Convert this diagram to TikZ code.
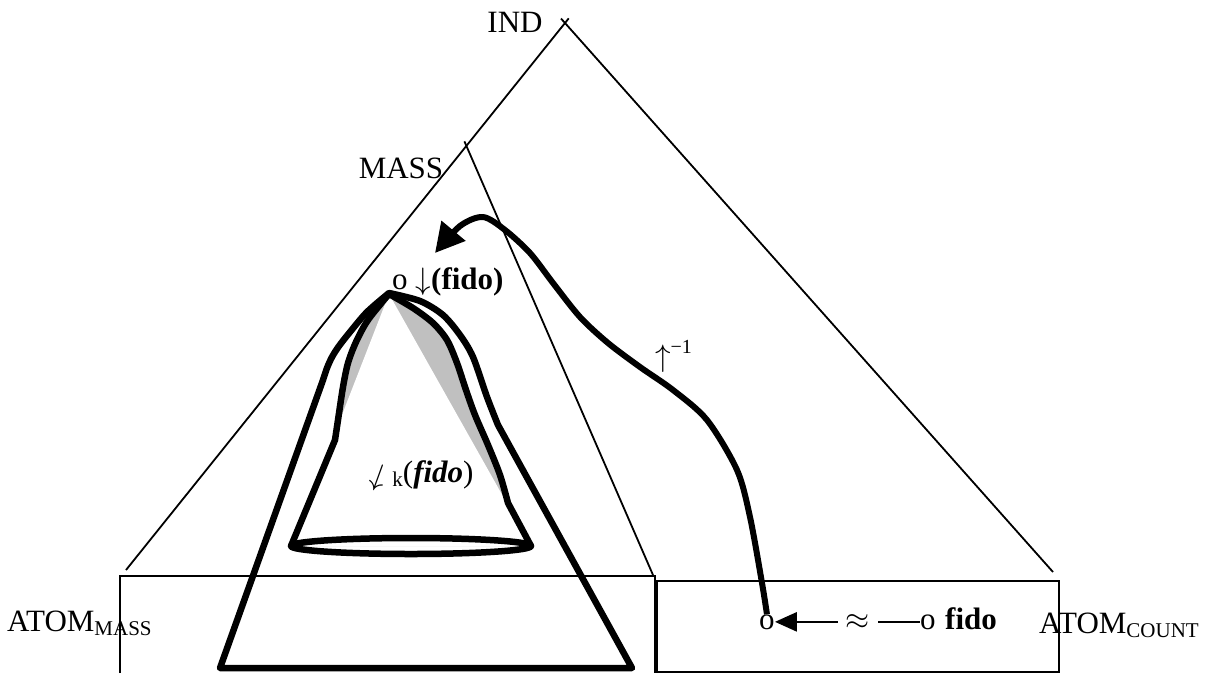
\RequirePackage{fix-cm}
\documentclass[tikz,border=0pt]{standalone}
\usepackage{fontspec}
\setmainfont{Liberation Serif}
\usepackage{graphicx}
\usetikzlibrary{arrows.meta,calc}
\definecolor{lgray}{RGB}{192,192,192}
\newcommand{\subsc}[1]{\raisebox{-4pt}{\fontsize{21}{21}\selectfont #1}}
\begin{document}
\begin{tikzpicture}[x=1pt,y=-1pt,
  fine/.style={line width=1.8pt},
  heavy/.style={line width=6.5pt, line join=round},
  lbl/.style={inner sep=0pt, font=\fontsize{31}{36}\selectfont}]
\useasboundingbox (0,0) rectangle (1215,673);

% named points
\coordinate (indtop) at (565,23);
\coordinate (masstop) at (466,145);
\coordinate (lbot) at (126,570);
\coordinate (rbot) at (1053,572);
\coordinate (mbot) at (653,575);
\coordinate (apex) at (389,294);
\coordinate (eL) at (291,546);
\coordinate (eR) at (531,546);
\coordinate (tip) at (435,253);

% triangles
\draw[fine] (lbot) -- ($(indtop)!-6pt!(lbot)$);
\draw[fine] (rbot) -- ($(indtop)!-6pt!(rbot)$);
\draw[fine] (mbot) -- ($(masstop)!-4pt!(mbot)$);

% boxes
\draw[fine] (120,673) -- (120,576) -- (655,576) -- (655,673);
\draw[fine] (657,581) rectangle (1059,672);

% grey shading between cone and bell
\fill[lgray] (eL) -- plot[smooth] coordinates {(335,440) (338,420) (343,387) (348,363) (356,342) (368,320) (389,294)}
  -- plot[smooth] coordinates {(389,294) (413,308) (433,323) (447,340) (457,363) (466,390) (475,415) (488,445) (500,475) (508,503)}
  -- (eR) -- cycle;
\fill[white] (apex) -- (eL) -- (eR) -- cycle;

% inner bell
\draw[heavy] (eL) -- plot[smooth] coordinates {(335,440) (338,420) (343,387) (348,363) (356,342) (368,320) (389,294)}
  -- plot[smooth] coordinates {(389,294) (413,308) (433,323) (447,340) (457,363) (466,390) (475,415) (488,445) (500,475) (508,503)}
  -- (eR);
\draw[heavy] (411,546) ellipse [x radius=120, y radius=8];

% outer bell / trapezoid
\draw[heavy] (220,668) -- (323,380) -- plot[smooth] coordinates {(323,380) (327,368) (332,357) (339,346) (350,332) (367,312) (389,293)}
  -- plot[smooth] coordinates {(389,293) (420,301) (443,315) (460,335) (473,357) (487,397) (498,425)}
  -- (632,668) -- cycle;

% labels
\node[lbl, anchor=base] (ind) at (515,32) {IND};
\node[lbl, anchor=base] (mass) at (401,178) {MASS};
\node[lbl, anchor=base west] (am) at (7,631) {ATOM\subsc{MASS}};
\node[lbl, anchor=base west] (ac) at (1039,633) {ATOM\subsc{COUNT}};
\node[lbl, anchor=base west] (fidoup) at (392,289) {o\hspace{8pt}$\downarrow$\textbf{(fido)}};
\node[lbl, anchor=base] (fk) at (420,482) {\rotatebox{-20}{$\downarrow$}\hspace{2pt}\subsc{k}(\textbf{\textit{fido}})};
\node[lbl, anchor=base west] (inv) at (655,366) {$\uparrow$\raisebox{13pt}{\fontsize{20}{20}\selectfont −1}};

% right box contents
\node[lbl, anchor=base west] (o1) at (759,629) {o};
\node[lbl, anchor=base west] (o2) at (920,629) {o};
\node[lbl, anchor=base west] (fido) at (945,629) {\textbf{fido}};
\draw[line width=2.7pt, -{Triangle[length=22pt,width=19pt]}] (o2.west) -- node[lbl, pos=0.43, fill=white, inner xsep=8pt, inner ysep=2pt] (approx) {$\approx$} (o1.east);

% big curved arrow
\draw[line width=6pt, -{Triangle[length=29pt,width=30pt]}] plot[smooth] coordinates {(o1.north) (762,583) (750,517) (737,470) (707,420) (673,390) (640,367) (608,343) (580,317) (553,283) (530,253) (505,230) (483,217) (460,226) (tip)};
\end{tikzpicture}
\end{document}
